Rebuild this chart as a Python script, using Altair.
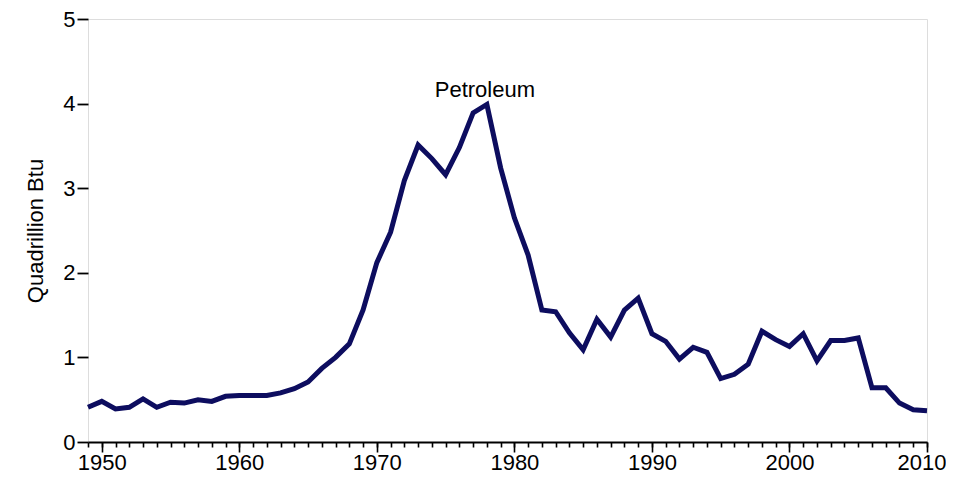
import altair as alt
import pandas as pd

years = list(range(1949, 2011))
values = [
    0.41, 0.48, 0.39, 0.41, 0.51, 0.41, 0.47, 0.46, 0.50, 0.48,
    0.54, 0.55, 0.55, 0.55, 0.58, 0.63, 0.71, 0.87, 1.00, 1.16,
    1.56, 2.12, 2.48, 3.09, 3.51, 3.35, 3.16, 3.48, 3.89, 3.99,
    3.24, 2.65, 2.21, 1.56, 1.54, 1.29, 1.09, 1.45, 1.24, 1.56,
    1.70, 1.28, 1.19, 0.98, 1.12, 1.06, 0.75, 0.80, 0.92, 1.31,
    1.21, 1.13, 1.28, 0.96, 1.20, 1.20, 1.23, 0.64, 0.64, 0.46,
    0.38, 0.37,
]
major_years = [1950, 1960, 1970, 1980, 1990, 2000, 2010]
series_label = ["Petroleum"]
label_year = [1978]
label_value = [3.99]
y_ticks = [0, 1, 2, 3, 4, 5]

df = pd.DataFrame({"year": years, "value": values})
lab = pd.DataFrame({"year": label_year, "value": label_value, "text": series_label})

FONT = "Liberation Sans"

x_scale = alt.Scale(domain=[1949, 2010], nice=False, zero=False)
y_scale = alt.Scale(domain=[0, 5], nice=False)

x_major = alt.Axis(
    values=major_years,
    format="d",
    title=None,
    grid=False,
    orient="bottom",
    domainColor="black",
    domainWidth=1.8,
    tickColor="black",
    tickWidth=1.6,
    tickSize=10,
    labelFont=FONT,
    labelFontSize=22,
    labelColor="black",
    labelPadding=0,
    labelFlush=True,
    labelFlushOffset=19,
    labelOverlap=False,
)

x_minor = alt.Axis(
    values=years,
    title=None,
    grid=False,
    orient="bottom",
    domain=False,
    labels=False,
    tickColor="black",
    tickWidth=1.6,
    tickSize=5,
)

y_axis = alt.Axis(
    values=y_ticks,
    format="d",
    title="Quadrillion Btu",
    grid=False,
    domain=False,
    tickColor="black",
    tickWidth=1.8,
    tickSize=11,
    labelFont=FONT,
    labelFontSize=22,
    labelColor="black",
    labelPadding=2,
    titleFont=FONT,
    titleFontSize=22,
    titleFontWeight="normal",
    titleColor="black",
    titlePadding=15,
)

line = alt.Chart(df).mark_line(color="#0d0d5f", strokeWidth=5, strokeJoin="miter").encode(
    x=alt.X("year:Q", scale=x_scale, axis=x_major),
    y=alt.Y("value:Q", scale=y_scale, axis=y_axis),
)

text = alt.Chart(lab).mark_text(
    font=FONT, fontSize=22, color="black", align="center", baseline="alphabetic", dy=-7, dx=-2
).encode(
    x=alt.X("year:Q", scale=x_scale, axis=x_minor),
    y=alt.Y("value:Q", scale=y_scale),
    text="text:N",
)

chart = (
    alt.layer(line, text)
    .resolve_axis(x="independent")
    .properties(
        width=839,
        height=423,
        autosize=alt.AutoSizeParams(type="none"),
        padding={"left": 80, "top": 11, "right": 19, "bottom": 33},
    )
    .configure_view(strokeOpacity=0, strokeWidth=0)
    .configure(background="white")
)

chart.save("out.html", embed_options={"renderer": "svg", "actions": False})
